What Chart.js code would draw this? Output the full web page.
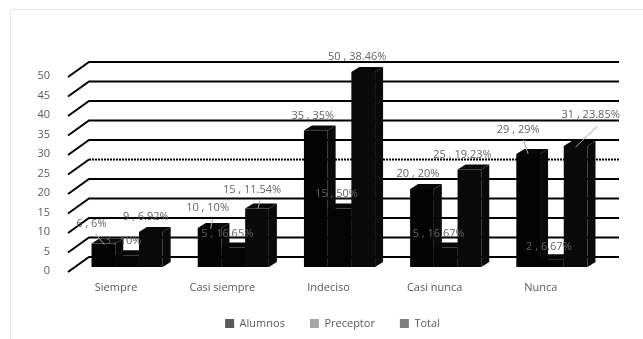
<!DOCTYPE html>
<html>
<head>
<meta charset="utf-8">
<style>
html, body { margin: 0; padding: 0; background: #fff; }
canvas { display: block; }
</style>
<script src="https://cdn.jsdelivr.net/npm/chart.js@4"></script>
</head>
<body>
<canvas id="chart" width="643" height="339"></canvas>
<script>
const categories = ["Siempre", "Casi siempre", "Indeciso", "Casi nunca", "Nunca"];
const alumnos = [6, 10, 35, 20, 29];
const preceptor = [3, 5, 15, 5, 2];
const total = [9, 15, 50, 25, 31];
const alumnos_pct = ["6%", "10%", "35%", "20%", "29%"];
const preceptor_pct = ["10%", "16.65%", "50%", "16.67%", "6.67%"];
const total_pct = ["6.92%", "11.54%", "38.46%", "19.23%", "23.85%"];

// nudges of each data label from the top of its bar: [dx, dy] per dataset, per category
const label_nudge = [
    [[-12, -20], [-2, -20], [-3, -15], [-4, -15], [-10, -24]],
    [[-4, -14], [-6, -14], [-3, -15], [-7, -14], [-3, -12]],
    [[-5, -15], [-5, -19], [-6, -15], [-7, -15], [15, -31]]
];
// leader lines: dataset, category, then both ends relative to the top of the bar
const leaders = [
    [0, 0, -8, -10, 1, 1],
    [0, 1, 3, -9, 1, 1],
    [0, 4, -5, -14, 0, 0],
    [2, 1, 3, -8, 1, 0],
    [2, 4, 22, -20, 0, 1]
];

const depth_x = 8;
const depth_y = 5;

const grid_3d = {
    id: "grid_3d",
    beforeDatasetsDraw(chart) {
        const c = chart.ctx;
        const y = chart.scales.y;
        c.save();
        y.ticks.forEach((t) => {
            const py = y.getPixelForValue(t.value);
            c.strokeStyle = "#000";
            c.lineWidth = 2;
            c.beginPath();
            c.moveTo(68, py + 5);
            c.lineTo(89, py - 10);
            c.lineTo(t.value === 25 ? 89 : 619, py - 10);
            c.stroke();
            if (t.value === 25) {
                c.setLineDash([2, 1]);
                c.beginPath();
                c.moveTo(89, py - 10);
                c.lineTo(619, py - 10);
                c.stroke();
                c.setLineDash([]);
            }
        });
        // side and top faces go under the fronts the library draws
        chart.data.datasets.forEach((ds, i) => {
            chart.getDatasetMeta(i).data.forEach((bar) => {
                const half = bar.width / 2;
                const r = bar.x + half;
                const l = bar.x - half;
                c.fillStyle = "#0a0a0a";
                c.beginPath();
                c.moveTo(r, bar.y);
                c.lineTo(r + depth_x, bar.y - depth_y);
                c.lineTo(r + depth_x, bar.base - depth_y);
                c.lineTo(r, bar.base);
                c.closePath();
                c.fill();
                c.fillStyle = "#080808";
                c.beginPath();
                c.moveTo(l, bar.y);
                c.lineTo(l + depth_x, bar.y - depth_y);
                c.lineTo(r + depth_x, bar.y - depth_y);
                c.lineTo(r, bar.y);
                c.closePath();
                c.fill();
            });
        });
        c.restore();
    },
    afterDatasetsDraw(chart) {
        const c = chart.ctx;
        const pcts = [alumnos_pct, preceptor_pct, total_pct];
        c.save();
        c.font = "11px 'Open Sans'";
        c.fillStyle = "#636363";
        c.textAlign = "center";
        c.textBaseline = "middle";
        chart.data.datasets.forEach((ds, i) => {
            chart.getDatasetMeta(i).data.forEach((bar, j) => {
                const n = label_nudge[i][j];
                c.fillText(ds.data[j] + " , " + pcts[i][j], bar.x + n[0], bar.y + n[1]);
            });
        });
        c.strokeStyle = "#a6a6a6";
        c.lineWidth = 1;
        leaders.forEach((l) => {
            const bar = chart.getDatasetMeta(l[0]).data[l[1]];
            c.beginPath();
            c.moveTo(bar.x + l[2], bar.y + l[3]);
            c.lineTo(bar.x + l[4], bar.y + l[5]);
            c.stroke();
        });
        c.restore();
    }
};

const frame = {
    id: "frame",
    afterLayout(chart) {
        // the legend sits right of the canvas centre in the original
        chart.legend.left += 30;
        chart.legend.right += 30;
    },
    beforeDraw(chart) {
        const c = chart.ctx;
        c.save();
        c.fillStyle = "#fff";
        c.fillRect(0, 0, chart.width, chart.height);
        c.strokeStyle = "#e6e6e6";
        c.beginPath();
        c.moveTo(10.5, 339);
        c.lineTo(10.5, 9.5);
        c.lineTo(643, 9.5);
        c.stroke();
        c.restore();
    }
};

const legend_colors = ["#595959", "#a6a6a6", "#7f7f7f"];

new Chart(document.getElementById("chart"), {
    type: "bar",
    data: {
        labels: categories,
        datasets: [
            { label: "Alumnos", data: alumnos, backgroundColor: "#030303" },
            { label: "Preceptor", data: preceptor, backgroundColor: "#050505" },
            { label: "Total", data: total, backgroundColor: "#0a0a0a" }
        ]
    },
    options: {
        responsive: false,
        animation: false,
        layout: { padding: { left: 0, right: 38, top: 72, bottom: 0 } },
        datasets: { bar: { categoryPercentage: 0.67, barPercentage: 1 } },
        scales: {
            x: {
                afterFit(scale) { scale.height = 26; },
                grid: { display: false },
                border: { display: false },
                ticks: {
                    color: "#595959",
                    font: { family: "Open Sans", size: 11 },
                    padding: 6,
                    labelOffset: -11,
                    maxRotation: 0,
                    autoSkip: false
                }
            },
            y: {
                min: 0,
                max: 50,
                grid: { display: false },
                border: { display: false },
                afterFit(scale) { scale.width = 74; },
                ticks: {
                    stepSize: 5,
                    color: "#595959",
                    font: { family: "Open Sans", size: 11 },
                    padding: 16,
                    labelOffset: 4
                }
            }
        },
        plugins: {
            tooltip: { enabled: false },
            legend: {
                position: "bottom",
                labels: {
                    boxWidth: 9,
                    boxHeight: 9,
                    padding: 25,
                    color: "#595959",
                    font: { family: "Open Sans", size: 11 },
                    generateLabels(chart) {
                        return chart.data.datasets.map((ds, i) => ({
                            text: ds.label,
                            fillStyle: legend_colors[i],
                            strokeStyle: legend_colors[i],
                            lineWidth: 0,
                            fontColor: "#595959",
                            datasetIndex: i
                        }));
                    }
                }
            }
        }
    },
    plugins: [frame, grid_3d]
});
</script>
</body>
</html>
